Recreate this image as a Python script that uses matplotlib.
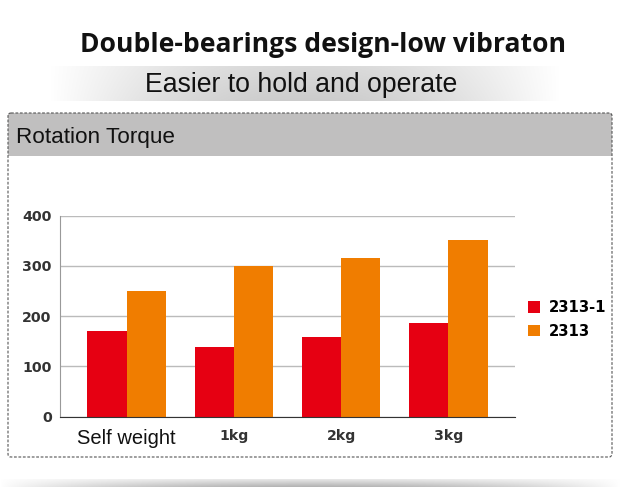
import numpy as np
import matplotlib
matplotlib.use("Agg")
import matplotlib.pyplot as plt
from matplotlib.patches import Rectangle, FancyBboxPatch

categories = ["Self weight", "1kg", "2kg", "3kg"]
series_names = ["2313-1", "2313"]
values_2313_1 = [171, 139, 159, 187]
values_2313 = [251, 300, 316, 351]
y_ticks = [0, 100, 200, 300, 400]

title = "Double-bearings design-low vibraton"
subtitle = "Easier to hold and operate"
panel_title = "Rotation Torque"

RED = "#e60012"
ORANGE = "#f07d00"

W, H = 620, 487
fig = plt.figure(figsize=(W / 100, H / 100), dpi=100)
fig.patch.set_facecolor("white")

# background decoration axes in pixel coordinates
bg = fig.add_axes([0, 0, 1, 1])
bg.set_xlim(0, W)
bg.set_ylim(H, 0)
bg.axis("off")

# subtitle gradient band
xs = np.linspace(0, 1, 400)
prof = np.clip(np.sin(np.pi * xs) ** 1.0, 0, 1)
ys = np.linspace(0, 1, 40)
vert = 0.75 + 0.25 * ys
img = 1 - np.outer(vert, 0.2 * prof)
bg.imshow(np.dstack([img] * 3), extent=(50, 560, 101, 66), aspect="auto",
          zorder=0, interpolation="bilinear")

# bottom gradient band
prof2 = np.clip(np.sin(np.pi * np.linspace(0, 1, 400)), 0, 1) ** 0.8
vert2 = np.linspace(0.3, 1.0, 20)
img2 = 1 - np.outer(vert2, 0.3 * prof2)
bg.imshow(np.dstack([img2] * 3), extent=(0, W, H, 479), aspect="auto",
          zorder=0, interpolation="bilinear")

# panel box
bg.add_patch(Rectangle((8, 113), 604, 43, facecolor="#c0bfbf", edgecolor="none", zorder=1))
bg.add_patch(FancyBboxPatch((8, 113), 604, 344, boxstyle="round,pad=0,rounding_size=3",
                            facecolor="none", edgecolor="#555555", linestyle=(0, (2.5, 1.5)),
                            linewidth=0.8, zorder=2))

bg.text(323.5, 52.5, title, fontsize=19.1, fontweight="bold", family="Open Sans",
        ha="center", va="baseline", color="#111111")
bg.text(301, 92, subtitle, fontsize=19.2, family="Liberation Sans",
        ha="center", va="baseline", color="#111111")
bg.text(16, 143, panel_title, fontsize=16.2, family="Liberation Sans",
        ha="left", va="baseline", color="#111111")

# chart axes
left, right, top, bottom = 60, 515, 215.7, 416.7
ax = fig.add_axes([left / W, 1 - bottom / H, (right - left) / W, (bottom - top) / H])
ax.set_facecolor("none")
x = np.arange(len(categories))
bw = 0.364
ax.bar(x - bw / 2, values_2313_1, bw, color=RED, label=series_names[0], zorder=3)
ax.bar(x + bw / 2, values_2313, bw, color=ORANGE, label=series_names[1], zorder=3)
ax.set_xlim(-0.62, 3.62)
ax.set_ylim(0, 400)
ax.set_yticks(y_ticks)
ax.set_yticklabels([str(v) for v in y_ticks], fontsize=10.2, fontweight="bold",
                   family="DejaVu Sans", color="#333333")
ax.yaxis.grid(True, color="#bbbbbb", linewidth=1, zorder=0)
ax.tick_params(axis="y", length=0, pad=6)
ax.tick_params(axis="x", length=0, pad=9)
ax.set_xticks(x)
ax.set_xticklabels(categories)
for i, lab in enumerate(ax.get_xticklabels()):
    if i == 0:
        lab.set_fontsize(14.5)
        lab.set_family("Liberation Sans")
        lab.set_color("#111111")
    else:
        lab.set_fontsize(10.2)
        lab.set_fontweight("bold")
        lab.set_family("DejaVu Sans")
        lab.set_color("#333333")
for s in ["top", "right"]:
    ax.spines[s].set_visible(False)
ax.spines["left"].set_color("#999999")
ax.spines["bottom"].set_color("#333333")
ax.spines["left"].set_zorder(4)
ax.spines["bottom"].set_zorder(4)

leg = ax.legend(loc="center left", bbox_to_anchor=(1.0, 0.484), frameon=False,
                prop={"family": "DejaVu Sans", "weight": "bold", "size": 10.7},
                handlelength=0.8, handleheight=0.8, handletextpad=0.6, labelspacing=0.55)

fig.savefig("out.png", dpi=100, facecolor="white")
